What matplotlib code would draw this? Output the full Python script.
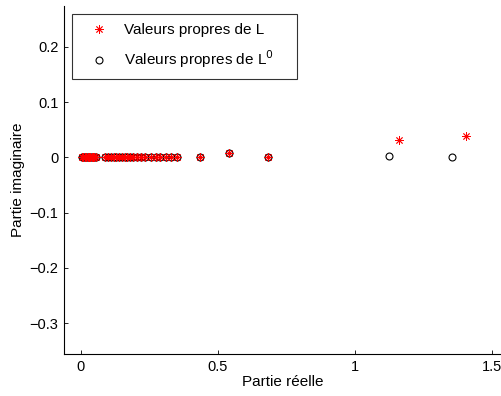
import matplotlib
matplotlib.use("Agg")
import matplotlib.pyplot as plt
from matplotlib.lines import Line2D

plt.rcParams['font.family'] = ['Liberation Sans', 'DejaVu Sans']

# Eigenvalues of L (asterisks)
L_re = [0.005, 0.01, 0.015, 0.02, 0.025, 0.03, 0.035, 0.04, 0.045, 0.05, 0.055,
        0.09, 0.10, 0.11, 0.12, 0.13, 0.14, 0.15, 0.16, 0.17, 0.18, 0.19,
        0.205, 0.22, 0.235, 0.255, 0.275, 0.29, 0.31, 0.33, 0.35,
        0.434, 0.541, 0.684, 1.16, 1.404]
L_im = [0.0] * 31 + [0.0, 0.0075, 0.0, 0.032, 0.038]

# Eigenvalues of L0 (circles)
L0_re = [0.005, 0.01, 0.015, 0.02, 0.025, 0.03, 0.035, 0.04, 0.045, 0.05, 0.055,
         0.09, 0.10, 0.11, 0.12, 0.13, 0.14, 0.15, 0.16, 0.17, 0.18, 0.19,
         0.205, 0.22, 0.235, 0.255, 0.275, 0.29, 0.31, 0.33, 0.35,
         0.434, 0.541, 0.684, 1.122, 1.353]
L0_im = [0.0] * 31 + [0.0, 0.0075, 0.0, 0.003, 0.0]

x_ticks = [0, 0.5, 1, 1.5]
x_ticklabels = ['0', '0.5', '1', '1.5']
y_ticks = [-0.3, -0.2, -0.1, 0, 0.1, 0.2]
y_ticklabels = ['\u22120.3', '\u22120.2', '\u22120.1', '0', '0.1', '0.2']
legend_labels = ['Valeurs propres de L', 'Valeurs propres de L$^{0}$    ']

STAR = (8, 2, 0)

fig = plt.figure(figsize=(5.02, 3.96), dpi=100)
ax = fig.add_axes([64/502, 42/396, 437/502, 348/396])

ax.plot(L0_re, L0_im, linestyle='none', marker='o', markersize=5,
        markerfacecolor='none', markeredgecolor='black', markeredgewidth=0.8, zorder=2)
ax.plot(L_re, L_im, linestyle='none', marker=STAR, markersize=6,
        color='red', markeredgewidth=0.6, zorder=3)

ax.set_xlim(-0.061, 1.532)
ax.set_ylim(-0.356, 0.274)
ax.set_xticks(x_ticks)
ax.set_xticklabels(x_ticklabels)
ax.set_yticks(y_ticks)
ax.set_yticklabels(y_ticklabels)
ax.tick_params(direction='in', length=3, width=0.6, labelsize=10.5, pad=4)
ax.spines['top'].set_visible(False)
ax.spines['right'].set_visible(False)
for s in ('left', 'bottom'):
    ax.spines[s].set_linewidth(0.8)

ax.set_xlabel('Partie réelle', fontsize=11, labelpad=1)
ax.set_ylabel('Partie imaginaire', fontsize=11, labelpad=3)

handles = [
    Line2D([], [], linestyle='none', marker=STAR, markersize=6, color='red', markeredgewidth=0.6),
    Line2D([], [], linestyle='none', marker='o', markersize=5, markerfacecolor='none',
           markeredgecolor='black', markeredgewidth=0.8),
]
leg = ax.legend(handles, legend_labels,
                loc='upper left', bbox_to_anchor=(8/437, (348 - 8)/348),
                fontsize=11, frameon=True, fancybox=False, edgecolor='black',
                borderpad=0.6, labelspacing=0.75, handletextpad=0.4, handlelength=2.4,
                borderaxespad=0)
leg.get_frame().set_linewidth(0.8)

fig.savefig('out.png', dpi=100)
